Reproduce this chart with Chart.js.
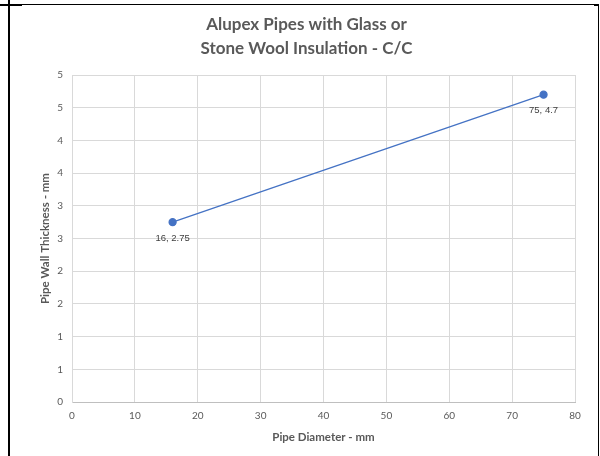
<!DOCTYPE html>
<html>
<head>
<meta charset="utf-8">
<script src="https://cdn.jsdelivr.net/npm/chart.js@4/dist/chart.umd.min.js"></script>
<style>
  html, body { margin: 0; padding: 0; background: #ffffff; }
  #wrap { position: relative; width: 600px; height: 456px; overflow: hidden; }
  #c { position: absolute; left: 0; top: 0; }
  .ln { position: absolute; background: #000000; }
</style>
</head>
<body>
<div id="wrap">
  <canvas id="c" width="600" height="456"></canvas>
  <div class="ln" style="left:0;top:4px;width:599px;height:1px;"></div>
  <div class="ln" style="left:0;top:4px;width:22px;height:2px;"></div>
  <div class="ln" style="left:594px;top:4px;width:5px;height:2px;"></div>
  <div class="ln" style="left:8px;top:0;width:2px;height:456px;"></div>
  <div class="ln" style="left:598px;top:4px;width:1px;height:452px;"></div>
</div>
<script>
// ---- data ----
const pipeDiameter = [16, 75];
const wallThickness = [2.75, 4.7];
const pointLabels = ['16, 2.75', '75, 4.7'];
const yTickLabels = ['0', '1', '1', '2', '2', '3', '3', '4', '4', '5', '5'];
const chartTitle = ['Alupex Pipes with Glass or', 'Stone Wool Insulation - C/C'];
const xTitle = 'Pipe Diameter - mm';
const yTitle = 'Pipe Wall Thickness - mm';

const points = pipeDiameter.map((x, i) => ({ x: x, y: wallThickness[i] }));

const labelPlugin = {
  id: 'pointLabels',
  afterDatasetsDraw(chart) {
    const ctx = chart.ctx;
    const meta = chart.getDatasetMeta(0);
    ctx.save();
    ctx.font = '9.5px "Liberation Sans", Arial, sans-serif';
    ctx.fillStyle = '#404040';
    ctx.textAlign = 'center';
    ctx.textBaseline = 'top';
    meta.data.forEach((el, i) => {
      ctx.fillText(pointLabels[i], el.x, el.y + 11);
    });
    ctx.restore();
  }
};

new Chart(document.getElementById('c'), {
  type: 'scatter',
  data: {
    datasets: [{
      data: points,
      showLine: true,
      borderColor: '#4472c4',
      borderWidth: 1.25,
      backgroundColor: '#4472c4',
      pointBackgroundColor: '#4472c4',
      pointBorderColor: '#4472c4',
      pointRadius: 3.5,
      tension: 0
    }]
  },
  options: {
    responsive: false,
    animation: false,
    devicePixelRatio: 1,
    layout: { padding: { left: 38, right: 25, top: 0, bottom: 12 } },
    plugins: {
      legend: { display: false },
      tooltip: { enabled: false },
      title: {
        display: true,
        text: chartTitle,
        color: '#595959',
        font: { family: 'Lato', size: 17, weight: 'bold', lineHeight: 1.412 },
        padding: { top: 13, bottom: 14 }
      }
    },
    scales: {
      x: {
        type: 'linear',
        min: 0, max: 80,
        ticks: { stepSize: 10, color: '#595959', font: { family: 'Lato', size: 10 }, padding: 8 },
        grid: { color: '#d9d9d9', drawTicks: false },
        border: { color: '#bfbfbf' },
        title: { display: true, text: xTitle, color: '#595959', font: { family: 'Lato', size: 11.5, weight: 'bold' }, padding: { top: 0, bottom: 0 } },
        afterFit(s) { s.height = 42; }
      },
      y: {
        type: 'linear',
        min: 0, max: 5,
        ticks: {
          stepSize: 0.5, color: '#595959', font: { family: 'Lato', size: 10 }, padding: 9,
          callback: (v, i) => yTickLabels[i]
        },
        grid: { color: '#d9d9d9', drawTicks: false },
        border: { color: '#d9d9d9' },
        title: { display: true, text: yTitle, color: '#595959', font: { family: 'Lato', size: 11.5, weight: 'bold' }, padding: { top: 0, bottom: 0 } },
        afterFit(s) { s.width = 34; }
      }
    }
  },
  plugins: [labelPlugin]
});
</script>
</body>
</html>
